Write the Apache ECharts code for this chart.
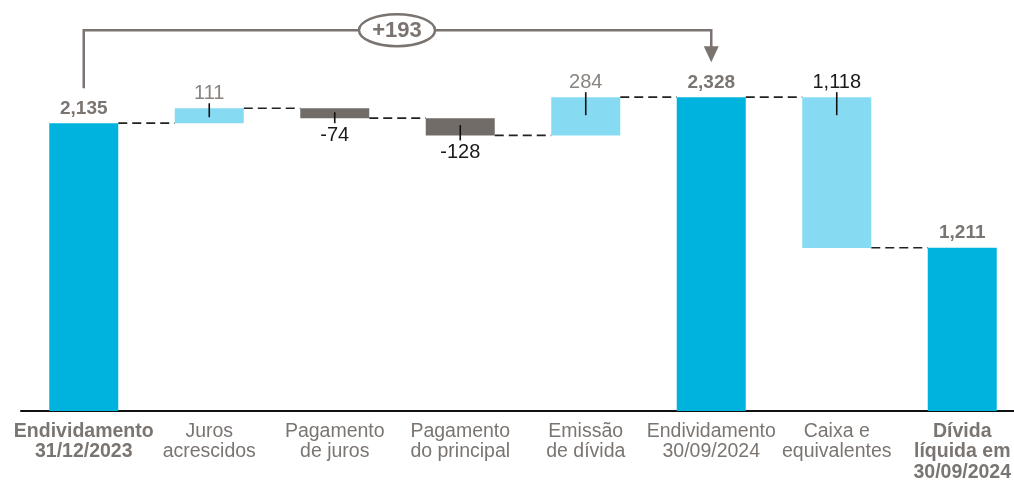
<!DOCTYPE html>
<html>
<head>
<meta charset="utf-8">
<script src="https://cdn.jsdelivr.net/npm/echarts@6/dist/echarts.min.js"></script>
<style>
  html, body { margin: 0; padding: 0; background: #ffffff; }
  #chart { width: 1014px; height: 481px; }
</style>
</head>
<body>
<div id="chart"></div>
<script>
// Bridge of gross debt to net debt (R$ million)
const categories = [
  'Endividamento\n31/12/2023',
  'Juros\nacrescidos',
  'Pagamento\nde juros',
  'Pagamento\ndo principal',
  'Emissão\nde dívida',
  'Endividamento\n30/09/2024',
  'Caixa e\nequivalentes',
  'Dívida\nlíquida em\n30/09/2024'
];
// signed movements; totals are absolute levels
const values = [2135, 111, -74, -128, 284, 2328, -1118, 1211];
// total | add | sub | cash
const kinds = ['total', 'add', 'sub', 'sub', 'add', 'total', 'cash', 'total'];
const labelTexts = ['2,135', '111', '-74', '-128', '284', '2,328', '1,118', '1,211'];
const bracketText = '+193';

const FONT = 'Liberation Sans, Arial, sans-serif';
const COLORS = {
  total: '#00B2DE',
  add: '#86DBF3',
  cash: '#86DBF3',
  sub: '#726C68'
};
const GRAY_TEXT = '#7B7571';
const BAR_W = 69;

// running levels: start/end of every bar
const starts = [], ends = [];
let level = 0;
values.forEach((v, i) => {
  if (kinds[i] === 'total') {
    starts.push(0); ends.push(v); level = v;
  } else {
    starts.push(level); level = level + v; ends.push(level);
  }
});
const baseData = values.map((v, i) => Math.min(starts[i], ends[i]));
const barData = values.map((v, i) => ({
  value: Math.abs(ends[i] - starts[i]),
  itemStyle: { color: COLORS[kinds[i]] },
  label: labelStyle(i)
}));

function labelStyle(i) {
  const k = kinds[i];
  if (k === 'total') return { position: 'top', distance: 5, color: GRAY_TEXT, fontWeight: 'bold', fontSize: 19 };
  if (k === 'add') return { position: 'top', distance: 5, color: '#8A8480', fontWeight: 'normal', fontSize: 20 };
  if (k === 'cash') return { position: 'top', distance: 5, color: '#1a1a1a', fontWeight: 'normal', fontSize: 20 };
  return { position: 'bottom', distance: 7, color: '#1a1a1a', fontWeight: 'normal', fontSize: 20 };
}

// dashed connectors between consecutive bars
const connectorData = [];
for (let i = 0; i < values.length - 1; i++) {
  const lv = kinds[i + 1] === 'total' ? ends[i + 1] : starts[i + 1];
  connectorData.push([i, kinds[i] === 'total' ? ends[i] : lv]);
}

// small marker ticks on the labelled edge of floating bars
const tickData = [];
values.forEach((v, i) => {
  if (kinds[i] === 'total') return;
  const up = kinds[i] !== 'sub';
  const edge = up ? Math.max(starts[i], ends[i]) : Math.min(starts[i], ends[i]);
  const other = up ? Math.min(starts[i], ends[i]) : Math.max(starts[i], ends[i]);
  tickData.push([i, edge, other, up ? 1 : -1]);
});

const chart = echarts.init(document.getElementById('chart'));

function catLabel(value, idx) {
  const style = (idx === 0 || idx === categories.length - 1) ? 'b' : 'n';
  return value.split('\n').map(l => '{' + style + '|' + l + '}').join('\n');
}

chart.setOption({
  animation: false,
  backgroundColor: '#ffffff',
  grid: { left: 21, width: 1004, top: 74, bottom: 70, outerBoundsMode: 'none', containLabel: false },
  xAxis: {
    type: 'category',
    data: categories,
    axisLine: { show: true, lineStyle: { color: '#111111', width: 2 } },
    axisTick: { show: false },
    axisLabel: {
      interval: 0,
      margin: 10,
      formatter: catLabel,
      rich: {
        n: { fontFamily: FONT, fontSize: 19.5, color: GRAY_TEXT, lineHeight: 20.5 },
        b: { fontFamily: FONT, fontSize: 19.5, color: GRAY_TEXT, fontWeight: 'bold', lineHeight: 20.5 }
      }
    }
  },
  yAxis: {
    type: 'value', min: 0, max: 2500, show: false,
    splitLine: { show: false }
  },
  series: [
    {
      type: 'bar', stack: 'wf', data: baseData, barWidth: BAR_W,
      itemStyle: { color: 'transparent' }, silent: true
    },
    {
      type: 'bar', stack: 'wf', data: barData, barWidth: BAR_W,
      label: {
        show: true,
        fontFamily: FONT,
        fontSize: 20,
        formatter: p => labelTexts[p.dataIndex]
      }
    },
    {
      type: 'custom',
      data: connectorData,
      z: 1,
      renderItem: function (params, api) {
        const p = api.coord([api.value(0), api.value(1)]);
        const band = api.size([1, 0])[0];
        return {
          type: 'line',
          shape: { x1: p[0] + BAR_W / 2, y1: p[1], x2: p[0] + band - BAR_W / 2, y2: p[1] },
          style: { stroke: '#222222', lineWidth: 1.7, lineDash: [9, 5] }
        };
      }
    },
    {
      type: 'custom',
      data: tickData,
      z: 5,
      renderItem: function (params, api) {
        const i = api.value(0);
        const pe = api.coord([i, api.value(1)]);
        const po = api.coord([i, api.value(2)]);
        const dir = api.value(3);
        const h = Math.abs(po[1] - pe[1]);
        const inside = Math.min(18, h * 0.6);
        const outside = 5;
        const y1 = pe[1] - dir * outside;
        const y2 = pe[1] + dir * inside;
        return {
          type: 'line',
          shape: { x1: pe[0], y1: y1, x2: pe[0], y2: y2 },
          style: { stroke: '#111111', lineWidth: 1.6 }
        };
      }
    }
  ]
});

// change bracket between the two debt totals
function drawBracket() {
  const a = chart.convertToPixel({ gridIndex: 0 }, [0, ends[0]]);
  const b = chart.convertToPixel({ gridIndex: 0 }, [5, ends[5]]);
  const topY = b[1] - 67;
  const leftStart = a[1] - 35;
  const tipY = b[1] - 35;
  const headH = 16, headW = 15;
  const midX = 397;
  const stroke = '#7A7370';
  chart.setOption({
    graphic: [
      {
        type: 'polyline', z: 10,
        shape: { points: [[a[0], leftStart], [a[0], topY], [b[0], topY], [b[0], tipY - headH + 1]] },
        style: { stroke: stroke, lineWidth: 2.5, fill: null }
      },
      {
        type: 'polygon', z: 10,
        shape: { points: [[b[0] - headW / 2, tipY - headH], [b[0] + headW / 2, tipY - headH], [b[0], tipY]] },
        style: { fill: stroke }
      },
      {
        type: 'ellipse', z: 11,
        shape: { cx: midX, cy: topY, rx: 38, ry: 16 },
        style: { fill: '#ffffff', stroke: stroke, lineWidth: 2.5 }
      },
      {
        type: 'text', z: 12,
        x: midX, y: topY + 1,
        style: {
          text: bracketText, fill: stroke, fontSize: 22, fontWeight: 'bold',
          fontFamily: FONT,
          align: 'center', verticalAlign: 'middle'
        }
      }
    ]
  });
}
drawBracket();
</script>
</body>
</html>
